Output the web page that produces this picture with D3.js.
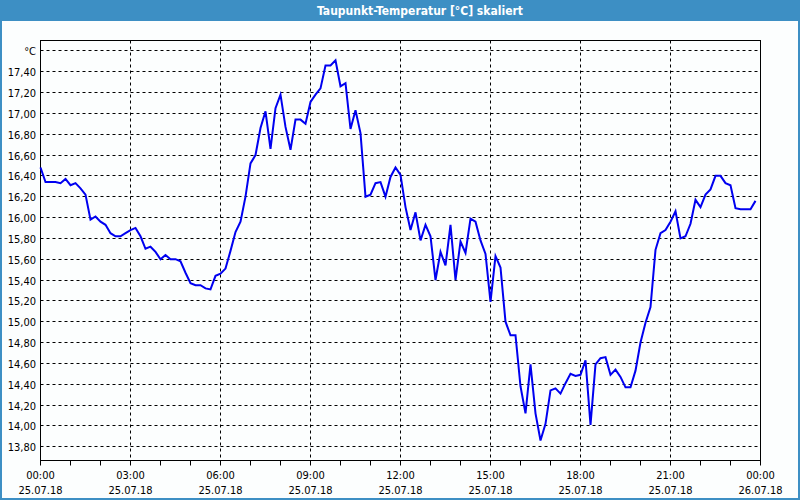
<!DOCTYPE html>
<html>
<head>
<meta charset="utf-8">
<script src="https://cdn.jsdelivr.net/npm/d3@7"></script>
<style>
  html, body { margin: 0; padding: 0; background: #fcfefe; }
  svg { display: block; }
</style>
</head>
<body>
<svg id="chart" width="800" height="500"></svg>
<script>
// ---- data ----
const title = "Taupunkt-Temperatur [°C] skaliert";
const unitLabel = "°C";
const startTime = "2018-07-25T00:00:00";
const stepMinutes = 10;
const dewPoint = [
  16.48, 16.34, 16.34, 16.34, 16.33, 16.37, 16.31, 16.33, 16.28, 16.22,
  15.98, 16.01, 15.96, 15.93, 15.85, 15.82, 15.82, 15.85, 15.88, 15.90,
  15.82, 15.70, 15.72, 15.67, 15.60, 15.64, 15.60, 15.60, 15.58, 15.47,
  15.37, 15.35, 15.35, 15.32, 15.31, 15.44, 15.46, 15.51, 15.68, 15.86,
  15.96, 16.20, 16.52, 16.60, 16.86, 17.02, 16.66, 17.05, 17.18, 16.87,
  16.65, 16.94, 16.94, 16.90, 17.11, 17.18, 17.24, 17.46, 17.46, 17.51,
  17.26, 17.29, 16.85, 17.03, 16.81, 16.20, 16.22, 16.33, 16.34, 16.20,
  16.39, 16.48, 16.41, 16.10, 15.88, 16.05, 15.78, 15.93, 15.82, 15.40,
  15.67, 15.54, 15.93, 15.40, 15.77, 15.66, 15.99, 15.96, 15.78, 15.65,
  15.19, 15.63, 15.52, 15.00, 14.87, 14.87, 14.38, 14.12, 14.59, 14.12,
  13.86, 14.02, 14.34, 14.36, 14.31, 14.41, 14.50, 14.48, 14.49, 14.63,
  14.01, 14.59, 14.65, 14.66, 14.49, 14.54, 14.47, 14.37, 14.37, 14.53,
  14.80, 14.99, 15.14, 15.69, 15.85, 15.88, 15.96, 16.06, 15.80, 15.82,
  15.94, 16.17, 16.10, 16.22, 16.27, 16.40, 16.40, 16.33, 16.31, 16.09,
  16.08, 16.08, 16.08, 16.16
];
const yTickValues = [13.8, 14.0, 14.2, 14.4, 14.6, 14.8, 15.0, 15.2, 15.4, 15.6,
                     15.8, 16.0, 16.2, 16.4, 16.6, 16.8, 17.0, 17.2, 17.4, 17.6];
const yDomain = [13.6675, 17.6995];
const xTimeLabels = ["00:00", "03:00", "06:00", "09:00", "12:00", "15:00", "18:00", "21:00", "00:00"];
const xDateLabels = ["25.07.18", "25.07.18", "25.07.18", "25.07.18", "25.07.18", "25.07.18", "25.07.18", "25.07.18", "26.07.18"];

// ---- layout ----
const W = 800, H = 500;
const L = 40.5, R = 760.5, T = 40.5, B = 460.5;
const font = "'DejaVu Sans Condensed', 'Liberation Sans', sans-serif";
const barColor = "#3d8fc4";

const svg = d3.select("#chart");
const t0 = new Date(startTime);
const t1 = d3.timeDay.offset(t0, 1);
const points = dewPoint.map((v, i) => ({ t: d3.timeMinute.offset(t0, i * stepMinutes), v }));

const x = d3.scaleTime().domain([t0, t1]).range([L, R]);
const y = d3.scaleLinear().domain(yDomain).range([B, T]);
const snap = p => Math.round(p - 0.5) + 0.5;

// background
svg.append("rect").attr("width", W).attr("height", H).attr("fill", "#fcfefe");
// title bar
svg.append("rect").attr("x", 0).attr("y", 0).attr("width", W).attr("height", 21).attr("fill", barColor);
svg.append("text").attr("x", 420).attr("y", 15).attr("text-anchor", "middle")
  .attr("font-family", font).attr("font-weight", "bold").attr("font-size", 12)
  .attr("fill", "#ffffff").text(title);
// window border
svg.append("path").attr("d", `M1,21 V${H - 1} H${W - 1} V21`)
  .attr("fill", "none").attr("stroke", barColor).attr("stroke-width", 2);

// horizontal grid
const grid = svg.append("g").attr("stroke", "#000").attr("stroke-width", 1).attr("stroke-dasharray", "3,3");
yTickValues.forEach(v => {
  const yy = snap(y(v));
  grid.append("line").attr("x1", L).attr("x2", R).attr("y1", yy).attr("y2", yy);
});
// vertical grid (every 3 h)
const majorTicks = d3.timeHour.every(3).range(t0, d3.timeMinute.offset(t1, 1));
majorTicks.forEach(d => {
  const xx = snap(x(d));
  if (xx > L + 1 && xx < R - 1)
    grid.append("line").attr("x1", xx).attr("x2", xx).attr("y1", T).attr("y2", B);
});

// hourly ticks
const minorTicks = d3.timeHour.every(1).range(t0, d3.timeMinute.offset(t1, 1));
const tk = svg.append("g").attr("stroke", "#000").attr("stroke-width", 1);
minorTicks.forEach(d => {
  const xx = snap(x(d));
  tk.append("line").attr("x1", xx).attr("x2", xx).attr("y1", B).attr("y2", B + 5);
});

// frame
svg.append("rect").attr("x", L).attr("y", T).attr("width", R - L).attr("height", B - T)
  .attr("fill", "none").attr("stroke", "#000").attr("stroke-width", 1);

// y labels
const fmt = d3.format(".2f");
const ylab = svg.append("g").attr("font-family", font).attr("font-size", 11).attr("fill", "#000")
  .attr("text-anchor", "end");
yTickValues.forEach((v, i) => {
  const label = i === yTickValues.length - 1 ? unitLabel : fmt(v).replace(".", ",");
  ylab.append("text").attr("x", 36).attr("y", snap(y(v)) + 4).text(label);
});

// x labels
const xlab = svg.append("g").attr("font-family", font).attr("font-size", 11).attr("fill", "#000")
  .attr("text-anchor", "middle");
majorTicks.forEach((d, i) => {
  const xx = x(d);
  xlab.append("text").attr("x", xx).attr("y", 479).text(xTimeLabels[i]);
  xlab.append("text").attr("x", xx).attr("y", 494).text(xDateLabels[i]);
});

// line
const line = d3.line().x(d => x(d.t)).y(d => y(d.v));
svg.append("path").datum(points).attr("d", line)
  .attr("fill", "none").attr("stroke", "#0000f0").attr("stroke-width", 2)
  .attr("stroke-linejoin", "miter");
</script>
</body>
</html>
